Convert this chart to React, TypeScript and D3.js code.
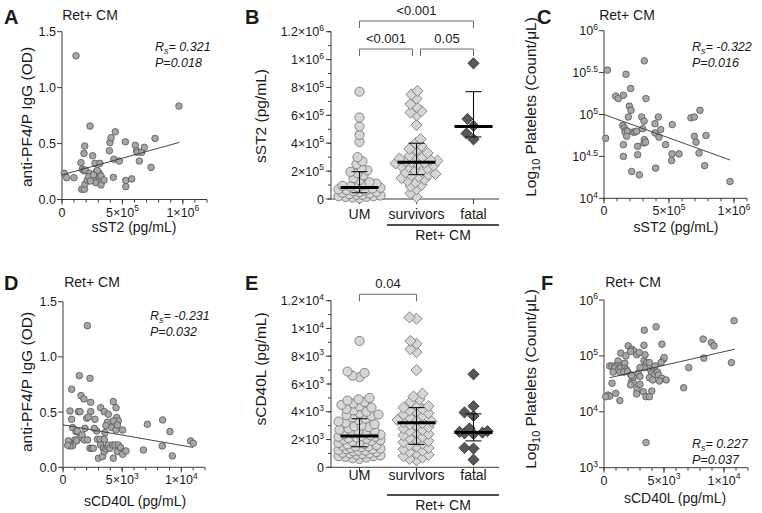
import React from 'react';
import * as d3 from 'd3';

const FONT = '"Liberation Sans", Arial, Helvetica, sans-serif';
const INK = '#1a1a1a';
const AXIS = '#3a3a3a';

type Pt = [number, number];

// ---------- Panel A: sST2 (x1e5 pg/mL) vs anti-PF4/P IgG (OD)
const A_POINTS: Pt[] = [
  [0.19, 0.234], [0.39, 0.195], [0.99, 0.195], [1.16, 1.284], [1.57, 0.329],
  [1.68, 0.27], [1.82, 0.257], [1.93, 0.263], [1.88, 0.478], [1.82, 0.412],
  [1.63, 0.091], [1.85, 0.091], [1.9, 0.136], [2.1, 0.174], [2.26, 0.234],
  [2.21, 0.204], [2.32, 0.656], [2.54, 0.391], [2.73, 0.323], [2.84, 0.248],
  [2.73, 0.174], [2.81, 0.15], [3.0, 0.21], [3.09, 0.234], [3.14, 0.195],
  [3.23, 0.21], [3.14, 0.323], [3.28, 0.159], [3.23, 0.13], [3.48, 0.174],
  [3.92, 0.436], [3.97, 0.51], [4.06, 0.552], [4.41, 0.605], [4.25, 0.198],
  [4.3, 0.36], [4.74, 0.344], [5.24, 0.516], [5.28, 0.17], [5.28, 0.115],
  [5.77, 0.184], [6.07, 0.484], [6.18, 0.436], [6.23, 0.421], [6.4, 0.344],
  [6.59, 0.421], [6.81, 0.466], [7.7, 0.546], [7.37, 0.287], [9.68, 0.835],
  [2.35, 0.165], [2.92, 0.26], [2.6, 0.22],
];
const A_LINE: [number, number, number, number] = [0, 0.22, 9.7, 0.51];
const A_STATS = ['0.321', '0.018'];

// ---------- Panel C: sST2 (x1e5) vs log10 platelets
const C_POINTS: Pt[] = [
  [0.13, 4.716], [0.26, 5.53], [0.9, 5.22], [1.1, 5.19], [1.49, 5.23],
  [1.69, 5.48], [2.05, 5.31], [1.95, 5.1], [2.08, 5.05], [1.87, 4.97],
  [1.44, 4.87], [1.56, 4.84], [1.69, 4.81], [1.62, 4.79], [1.82, 4.8],
  [1.74, 4.74], [1.49, 4.64], [1.49, 4.5], [2.25, 4.79], [2.38, 4.79],
  [2.51, 4.8], [2.59, 4.62], [2.59, 4.52], [2.13, 4.32], [2.72, 4.28],
  [2.9, 4.97], [3.08, 4.92], [2.97, 4.83], [3.1, 4.7], [3.08, 4.66],
  [3.2, 4.67], [3.1, 5.64], [3.23, 5.19], [3.92, 4.89], [4.18, 4.97],
  [3.92, 4.78], [4.23, 4.73], [3.97, 4.36], [4.36, 4.82], [4.74, 4.64],
  [5.25, 4.88], [5.23, 4.53], [5.2, 4.45], [5.77, 4.53], [6.69, 4.96],
  [6.95, 4.97], [6.95, 4.74], [7.08, 4.67], [7.31, 4.54], [7.85, 4.75],
  [7.38, 5.05], [7.74, 4.39], [9.69, 4.2],
];
const C_LINE: [number, number, number, number] = [0, 5.0, 9.7, 4.457];
const C_STATS = ['-0.322', '0.016'];

// ---------- Panel D: sCD40L (x1e3) vs anti-PF4/P IgG (OD)
const D_POINTS: Pt[] = [
  [2.06, 1.283], [1.38, 0.83], [2.28, 0.806], [0.73, 0.707], [1.52, 0.649],
  [1.77, 0.619], [2.34, 0.589], [0.59, 0.51], [1.3, 0.504], [1.44, 0.504],
  [2.34, 0.504], [0.73, 0.435], [2.0, 0.444], [2.14, 0.456], [2.7, 0.435],
  [3.18, 0.54], [3.49, 0.504], [3.83, 0.48], [4.25, 0.595], [4.48, 0.54],
  [4.54, 0.45], [4.68, 0.42], [4.25, 0.42], [3.75, 0.408], [4.11, 0.359],
  [3.63, 0.377], [2.85, 0.329], [4.48, 0.338], [4.59, 0.383], [5.04, 0.338],
  [0.82, 0.359], [1.1, 0.323], [1.21, 0.329], [1.44, 0.269], [1.61, 0.293],
  [1.01, 0.248], [1.15, 0.239], [0.82, 0.196], [0.54, 0.232], [0.59, 0.193],
  [0.45, 0.239], [1.8, 0.248], [2.08, 0.248], [2.28, 0.172], [2.42, 0.172],
  [2.56, 0.172], [2.9, 0.254], [3.13, 0.254], [3.49, 0.254], [3.55, 0.314],
  [3.18, 0.202], [3.41, 0.172], [2.99, 0.082], [3.35, 0.097], [3.49, 0.142],
  [3.63, 0.166], [3.75, 0.187], [3.83, 0.202], [3.97, 0.172], [4.2, 0.202],
  [4.39, 0.202], [4.25, 0.082], [4.59, 0.142], [4.68, 0.202], [4.87, 0.178],
  [5.15, 0.142], [5.04, 0.118], [5.32, 0.148], [6.79, 0.157], [7.13, 0.39],
  [8.39, 0.193], [8.42, 0.429], [9.04, 0.323], [9.24, 0.103], [10.79, 0.239],
  [11.01, 0.217], [2.65, 0.353], [1.86, 0.353], [0.39, 0.2],
];
const D_LINE: [number, number, number, number] = [0, 0.385, 11.0, 0.18];
const D_STATS = ['-0.231', '0.032'];

// ---------- Panel F: sCD40L (x1e3) vs log10 platelets
const F_POINTS: Pt[] = [
  [10.84, 5.63], [3.36, 5.46], [4.34, 5.52], [8.26, 5.3], [8.94, 5.24],
  [9.16, 5.18], [8.32, 4.96], [10.62, 4.88], [7.06, 4.79], [6.64, 4.43],
  [4.82, 5.21], [3.33, 5.19], [2.02, 5.18], [2.3, 5.12], [2.49, 5.09],
  [2.21, 5.08], [1.4, 5.05], [1.82, 5.0], [1.18, 4.91], [0.48, 4.82],
  [0.67, 4.82], [0.9, 4.82], [1.09, 4.82], [1.37, 4.82], [1.6, 4.82],
  [1.74, 4.87], [0.9, 4.78], [1.18, 4.75], [1.37, 4.78], [1.74, 4.78],
  [1.88, 4.75], [0.76, 4.71], [1.32, 4.71], [1.65, 4.71], [1.96, 4.72],
  [0.67, 4.51], [0.34, 4.3], [0.48, 4.28], [0.98, 4.33], [1.32, 4.2],
  [2.24, 4.66], [2.3, 4.54], [2.44, 4.52], [2.21, 4.48], [2.44, 4.62],
  [2.75, 4.4], [2.72, 4.32], [3.28, 4.36], [3.5, 4.27], [3.36, 4.79],
  [3.33, 4.91], [3.56, 4.88], [3.42, 5.02], [3.78, 4.88], [3.89, 4.75],
  [4.12, 4.75], [4.26, 4.82], [3.98, 4.69], [4.17, 4.66], [4.45, 4.71],
  [3.78, 4.61], [4.06, 4.57], [4.54, 4.66], [4.82, 4.6], [4.62, 4.55],
  [4.96, 4.94], [5.01, 4.97], [4.76, 4.88], [5.18, 4.57], [3.98, 4.37],
  [3.78, 4.27], [3.0, 4.49], [3.0, 4.79], [3.5, 3.45], [2.86, 4.69],
  [3.0, 4.63], [2.3, 4.65], [2.72, 5.02], [2.94, 5.06], [0.14, 4.27],
];
const F_LINE: [number, number, number, number] = [0.48, 4.61, 10.9, 5.12];
const F_STATS = ['0.227', '0.037'];

// ---------- Panel B: sST2 by group (x1e5 pg/mL)
const GROUPS = ['UM', 'survivors', 'fatal'];
const B_UM = [7.7, 5.85, 5.2, 4.6, 4.1, 3.0, 2.7, 2.5, 2.2, 2.05, 1.95, 1.85, 1.7, 1.5, 1.35,
  1.2, 1.1, 1.0, 0.95, 0.9, 0.85, 0.8, 0.75, 0.7, 0.65, 0.6, 0.55, 0.5, 0.5, 0.45, 0.4,
  0.35, 0.3, 0.3, 0.25, 0.2, 0.2, 0.15, 0.15, 0.1, 0.05];
const B_SURV = [7.75, 7.5, 7.2, 6.8, 6.6, 6.3, 6.2, 6.0, 5.3, 4.3, 4.0, 3.8, 3.6, 3.5, 3.3,
  3.1, 3.0, 3.0, 2.9, 2.8, 2.75, 2.7, 2.65, 2.6, 2.55, 2.5, 2.4, 2.35, 2.3, 2.2, 2.1, 2.0,
  1.9, 1.8, 1.75, 1.7, 1.6, 1.5, 1.4, 1.3, 1.2, 1.0, 0.9, 0.7, 0.4, 0.15];
const B_FATAL = [9.73, 5.74, 5.24, 4.7, 4.28];
const B_MEDIAN = [0.82, 2.63, 5.2];
const B_Q1 = [0.45, 1.75, 4.45];
const B_Q3 = [1.96, 4.0, 7.7];
const B_TICKS = ['0', '2×10^5', '4×10^5', '6×10^5', '8×10^5', '1×10^6', '1.2×10^6'];

// ---------- Panel E: sCD40L by group (x1e3 pg/mL)
const E_UM = [9.1, 6.9, 6.8, 6.6, 6.5, 5.0, 4.9, 4.8, 4.7, 4.6, 4.5, 4.4, 4.3, 4.2, 4.1, 4.0,
  3.9, 3.8, 3.75, 3.7, 3.6, 3.5, 3.4, 3.3, 3.2, 3.1, 3.0, 2.95, 2.9, 2.8, 2.7, 2.65, 2.6,
  2.5, 2.45, 2.4, 2.35, 2.3, 2.25, 2.2, 2.2, 2.15, 2.1, 2.05, 2.0, 1.95, 1.9, 1.85, 1.8,
  1.75, 1.7, 1.65, 1.6, 1.55, 1.5, 1.5, 1.45, 1.4, 1.35, 1.3, 1.3, 1.25, 1.2, 1.2, 1.15,
  1.1, 1.05, 1.0, 1.0, 0.95, 0.9, 0.85, 0.8, 0.8, 0.75, 0.7, 0.65, 0.6];
const E_SURV = [10.8, 10.7, 9.1, 8.9, 8.5, 8.3, 7.0, 5.3, 5.1, 4.9, 4.7, 4.5, 4.4, 4.3, 4.2,
  4.1, 4.0, 3.9, 3.8, 3.7, 3.6, 3.5, 3.4, 3.3, 3.25, 3.2, 3.1, 3.0, 2.9, 2.8, 2.7, 2.6,
  2.5, 2.4, 2.3, 2.2, 2.1, 2.0, 1.9, 1.8, 1.7, 1.6, 1.5, 1.4, 1.3, 1.2, 1.1, 1.0, 0.9,
  0.8, 0.7, 0.6, 0.5];
const E_FATAL = [6.7, 4.4, 3.95, 3.7, 2.8, 2.6, 2.55, 2.5, 2.45, 2.4, 1.4, 1.35, 0.55];
const E_MEDIAN = [2.25, 3.2, 2.5];
const E_Q1 = [1.48, 1.65, 1.9];
const E_Q3 = [3.5, 4.3, 3.85];
const E_TICKS = ['0', '2×10^3', '4×10^3', '6×10^3', '8×10^3', '1×10^4', '1.2×10^4'];

const SST2_X_TICKS = ['0', '5×10^5', '1×10^6'];
const CD40_X_TICKS = ['0', '5×10^3', '1×10^4'];
const OD_TICKS = ['0.0', '0.5', '1.0', '1.5'];
const PLT_C_TICKS = ['10^4', '10^4.5', '10^5', '10^5.5', '10^6'];
const PLT_F_TICKS = ['10^3', '10^4', '10^5', '10^6'];

const YLABEL_FS = 15.5;

function Sup({ s, fs }: { s: string; fs: number }) {
  const [base, exp] = s.split('^');
  return (
    <>
      {base}
      {exp !== undefined && (
        <tspan dy={-fs * 0.42} fontSize={fs * 0.68}>{exp}</tspan>
      )}
    </>
  );
}

function diamond(s: number) {
  return `M0,${-s}L${s},0L0,${s}L${-s},0Z`;
}

function swarm(vals: number[], y: (v: number) => number, minDist: number, maxW: number) {
  const idx = vals.map((_, i) => i).sort((a, b) => vals[a] - vals[b]);
  const placed: { x: number; y: number }[] = [];
  const offs = new Array(vals.length).fill(0);
  for (const i of idx) {
    const py = y(vals[i]);
    let best = 0;
    let bestScore = -1;
    for (let k = 0; k <= 2 * maxW; k++) {
      const dx = (k % 2 === 0 ? 1 : -1) * Math.ceil(k / 2);
      let mind = Infinity;
      for (const p of placed) {
        const d = Math.hypot(p.x - dx, p.y - py);
        if (d < mind) mind = d;
      }
      if (mind >= minDist) { best = dx; break; }
      if (mind > bestScore) { bestScore = mind; best = dx; }
    }
    offs[i] = best;
    placed.push({ x: best, y: py });
  }
  return offs;
}

type ScatterProps = {
  xr: [number, number]; yr: [number, number];
  xDomain: [number, number]; yDomain: [number, number];
  xUnit: number; points: Pt[]; line: [number, number, number, number];
  xTicks: string[]; xTickVals: number[];
  yTicks: string[]; yTickVals: number[];
  stats: string[]; statsX: number; statsY: number;
  title: string; titleX: number; titleY: number;
  letter: string; letterX: number; letterY: number;
  xLabel: string; xLabelX: number; xLabelY: number;
  yLabel: React.ReactNode; yLabelX: number; yLabelY: number;
};

function Scatter(p: ScatterProps) {
  const x = d3.scaleLinear().domain(p.xDomain).range(p.xr);
  const y = d3.scaleLinear().domain(p.yDomain).range(p.yr);
  const minors = d3.range(0, p.xDomain[1] / p.xUnit + 1e-9, 1);
  const [lx0, ly0, lx1, ly1] = p.line;
  return (
    <g fontFamily={FONT} fill={INK}>
      <text transform={`translate(${p.yLabelX},${p.yLabelY}) rotate(-90)`} fontSize={YLABEL_FS} textAnchor="middle">
        {p.yLabel}
      </text>
      <text x={p.letterX} y={p.letterY} fontSize={20} fontWeight="bold">{p.letter}</text>
      <text x={p.titleX} y={p.titleY} fontSize={14} textAnchor="middle">{p.title}</text>
      <line x1={p.xr[0]} x2={p.xr[1]} y1={p.yr[0]} y2={p.yr[0]} stroke={AXIS} strokeWidth={1} />
      <line x1={p.xr[0]} x2={p.xr[0]} y1={p.yr[0]} y2={p.yr[1]} stroke={AXIS} strokeWidth={1} />
      {minors.map((m, i) => (
        <line key={'mn' + i} x1={x(m * p.xUnit)} x2={x(m * p.xUnit)} y1={p.yr[0]} y2={p.yr[0] + 3} stroke={AXIS} />
      ))}
      {p.xTickVals.map((v, i) => (
        <g key={'xt' + i}>
          <line x1={x(v)} x2={x(v)} y1={p.yr[0]} y2={p.yr[0] + 5} stroke={AXIS} />
          <text x={x(v)} y={p.yr[0] + 17} fontSize={12.5} textAnchor="middle">
            <Sup s={p.xTicks[i]} fs={12.5} />
          </text>
        </g>
      ))}
      {p.yTickVals.map((v, i) => (
        <g key={'yt' + i}>
          <line x1={p.xr[0] - 5} x2={p.xr[0]} y1={y(v)} y2={y(v)} stroke={AXIS} />
          <text x={p.xr[0] - 6} y={y(v) + 4.5} fontSize={12.5} textAnchor="end">
            <Sup s={p.yTicks[i]} fs={12.5} />
          </text>
        </g>
      ))}
      {p.points.map((d, i) => (
        <circle key={'pt' + i} cx={x(d[0] * p.xUnit)} cy={y(d[1])} r={3.3}
          fill="#a6a6a6" stroke="#555" strokeWidth={0.8} />
      ))}
      <line x1={x(lx0 * p.xUnit)} y1={y(ly0)} x2={x(lx1 * p.xUnit)} y2={y(ly1)}
        stroke="#333" strokeWidth={0.9} />
      <text x={p.statsX} y={p.statsY} fontSize={12.5} fontStyle="italic">
        R<tspan dy={3} fontSize={9}>s</tspan><tspan dy={-3}>= {p.stats[0]}</tspan>
      </text>
      <text x={p.statsX} y={p.statsY + 16} fontSize={12.5} fontStyle="italic">P={p.stats[1]}</text>
      <text x={p.xLabelX} y={p.xLabelY} fontSize={14} textAnchor="middle">{p.xLabel}</text>
    </g>
  );
}

type Bracket = { a: number; b: number; y: number; label: string; insetA: number; insetB: number };
type DotProps = {
  yr: [number, number]; yMax: number; unit: number;
  groups: number[][]; median: number[]; q1: number[]; q3: number[];
  yTicks: string[];
  brackets: Bracket[];
  letter: string; letterY: number; yLabel: string; yLabelY: number;
  catY: number; groupLineY: number; groupY: number;
};

function DotPanel(p: DotProps) {
  const xAxis: [number, number] = [331, 499];
  const xc = d3.scalePoint<string>().domain(GROUPS).range([331, 502]).padding(0.5);
  const y = d3.scaleLinear().domain([0, p.yMax]).range(p.yr);
  const nUnits = Math.round(p.yMax / p.unit);
  const minors = d3.range(0, nUnits + 1, 1);
  const majors = d3.range(0, nUnits + 1, 2);
  const styles = [
    { fill: '#d6d6d6', stroke: '#7a7a7a', shape: 'circle' },
    { fill: '#d6d6d6', stroke: '#7a7a7a', shape: 'diamond' },
    { fill: '#575757', stroke: '#3a3a3a', shape: 'diamond' },
  ];
  return (
    <g fontFamily={FONT} fill={INK}>
      <text x={245} y={p.letterY} fontSize={20} fontWeight="bold">{p.letter}</text>
      <line x1={xAxis[0]} x2={xAxis[1]} y1={p.yr[0]} y2={p.yr[0]} stroke={AXIS} />
      <line x1={xAxis[0]} x2={xAxis[0]} y1={p.yr[0]} y2={p.yr[1]} stroke={AXIS} />
      {minors.map((m, i) => (
        <line key={'mn' + i} x1={xAxis[0] - 3} x2={xAxis[0]} y1={y(m * p.unit)} y2={y(m * p.unit)} stroke={AXIS} />
      ))}
      {majors.map((m, i) => (
        <g key={'mj' + i}>
          <line x1={xAxis[0] - 5} x2={xAxis[0]} y1={y(m * p.unit)} y2={y(m * p.unit)} stroke={AXIS} />
          <text x={xAxis[0] - 7} y={y(m * p.unit) + 4.5} fontSize={12.5} textAnchor="end">
            <Sup s={p.yTicks[i]} fs={12.5} />
          </text>
        </g>
      ))}
      {GROUPS.map((g, gi) => {
        const cx = xc(g) as number;
        const vals = p.groups[gi].map((v) => v * p.unit);
        const offs = swarm(vals, y, gi === 2 ? 9 : 6.2, gi === 2 ? 14 : 21);
        const st = styles[gi];
        const order = vals.map((_, i) => i).sort((a, b) => vals[a] - vals[b]);
        return (
          <g key={g}>
            <line x1={cx} x2={cx} y1={p.yr[0]} y2={p.yr[0] + 5} stroke={AXIS} />
            <text x={cx} y={p.catY} fontSize={14} textAnchor="middle">{g}</text>
            {order.map((i) =>
              st.shape === 'circle' ? (
                <circle key={i} cx={cx + offs[i]} cy={y(vals[i])} r={4.6} fill={st.fill}
                  stroke={st.stroke} strokeWidth={0.9} />
              ) : (
                <path key={i} d={diamond(5.6)} transform={`translate(${cx + offs[i]},${y(vals[i])})`}
                  fill={st.fill} stroke={st.stroke} strokeWidth={0.9} />
              )
            )}
            <line x1={cx} x2={cx} y1={y(p.q1[gi] * p.unit)} y2={y(p.q3[gi] * p.unit)} stroke="#111" strokeWidth={1.1} />
            <line x1={cx - 8} x2={cx + 8} y1={y(p.q1[gi] * p.unit)} y2={y(p.q1[gi] * p.unit)} stroke="#111" strokeWidth={1.1} />
            <line x1={cx - 8} x2={cx + 8} y1={y(p.q3[gi] * p.unit)} y2={y(p.q3[gi] * p.unit)} stroke="#111" strokeWidth={1.1} />
            <line x1={cx - 19} x2={cx + 19} y1={y(p.median[gi] * p.unit)} y2={y(p.median[gi] * p.unit)} stroke="#000" strokeWidth={3} />
          </g>
        );
      })}
      <line x1={387} x2={499} y1={p.groupLineY} y2={p.groupLineY} stroke="#111" strokeWidth={1.4} />
      <text x={443} y={p.groupY} fontSize={14} textAnchor="middle">Ret+ CM</text>
      {p.brackets.map((b, i) => {
        const xa = (xc(GROUPS[b.a]) as number) + b.insetA;
        const xb = (xc(GROUPS[b.b]) as number) + b.insetB;
        return (
          <g key={'br' + i}>
            <path d={`M${xa},${b.y + 7}V${b.y}H${xb}V${b.y + 7}`} fill="none" stroke="#6a6a6a" strokeWidth={1} />
            <text x={(xa + xb) / 2} y={b.y - 6} fontSize={13} textAnchor="middle">{b.label}</text>
          </g>
        );
      })}
      <text transform={`translate(266,${p.yLabelY}) rotate(-90)`} fontSize={YLABEL_FS} textAnchor="middle">{p.yLabel}</text>
    </g>
  );
}

const PlateletLabel = () => (
  <>
    Log<tspan dy={4} fontSize={11}>10</tspan><tspan dy={-4}> Platelets (Count/μL)</tspan>
  </>
);

const logToVal = (s: string) => parseFloat(s.split('^')[1]);

export default function App() {
  return (
    <svg width={762} height={513} viewBox="0 0 762 513"
      style={{ position: 'absolute', left: 0, top: 0, display: 'block', background: '#fff' }}>
      <rect width={762} height={513} fill="#fff" />
      <Scatter
        xr={[62, 207]} yr={[199.5, 31.7]} xDomain={[0, 1.2e6]} yDomain={[0, 1.5]}
        xUnit={1e5} points={A_POINTS} line={A_LINE}
        xTicks={SST2_X_TICKS} xTickVals={[0, 5e5, 1e6]}
        yTicks={OD_TICKS} yTickVals={[0, 0.5, 1, 1.5]}
        stats={A_STATS} statsX={155} statsY={51}
        title="Ret+ CM" titleX={90} titleY={20} letter="A" letterX={4} letterY={24}
        xLabel="sST2 (pg/mL)" xLabelX={134} xLabelY={232}
        yLabel="anti-PF4/P IgG (OD)" yLabelX={32} yLabelY={117}
      />
      <Scatter
        xr={[604, 747]} yr={[198.3, 30.7]} xDomain={[0, 1.1e6]} yDomain={[4, 6]}
        xUnit={1e5} points={C_POINTS} line={C_LINE}
        xTicks={SST2_X_TICKS} xTickVals={[0, 5e5, 1e6]}
        yTicks={PLT_C_TICKS} yTickVals={PLT_C_TICKS.map(logToVal)}
        stats={C_STATS} statsX={692} statsY={51}
        title="Ret+ CM" titleX={627} titleY={20} letter="C" letterX={537} letterY={24}
        xLabel="sST2 (pg/mL)" xLabelX={676} xLabelY={232}
        yLabel={<PlateletLabel />} yLabelX={536} yLabelY={107}
      />
      <Scatter
        xr={[63, 205]} yr={[467.3, 301.7]} xDomain={[0, 1.2e4]} yDomain={[0, 1.5]}
        xUnit={1e3} points={D_POINTS} line={D_LINE}
        xTicks={CD40_X_TICKS} xTickVals={[0, 5e3, 1e4]}
        yTicks={OD_TICKS} yTickVals={[0, 0.5, 1, 1.5]}
        stats={D_STATS} statsX={150} statsY={320}
        title="Ret+ CM" titleX={92} titleY={287} letter="D" letterX={4} letterY={290}
        xLabel="sCD40L (pg/mL)" xLabelX={135} xLabelY={506}
        yLabel="anti-PF4/P IgG (OD)" yLabelX={32} yLabelY={382}
      />
      <Scatter
        xr={[604, 748]} yr={[467.7, 300]} xDomain={[0, 1.2e4]} yDomain={[3, 6]}
        xUnit={1e3} points={F_POINTS} line={F_LINE}
        xTicks={CD40_X_TICKS} xTickVals={[0, 5e3, 1e4]}
        yTicks={PLT_F_TICKS} yTickVals={PLT_F_TICKS.map(logToVal)}
        stats={F_STATS} statsX={692} statsY={448}
        title="Ret+ CM" titleX={633} titleY={287} letter="F" letterX={541} letterY={290}
        xLabel="sCD40L (pg/mL)" xLabelX={675} xLabelY={503}
        yLabel={<PlateletLabel />} yLabelX={536} yLabelY={379}
      />
      <DotPanel
        yr={[199, 31.7]} yMax={1.2e6} unit={1e5}
        groups={[B_UM, B_SURV, B_FATAL]} median={B_MEDIAN} q1={B_Q1} q3={B_Q3}
        yTicks={B_TICKS}
        brackets={[
          { a: 0, b: 2, y: 21, label: '<0.001', insetA: 0, insetB: 0 },
          { a: 0, b: 1, y: 49, label: '<0.001', insetA: 0, insetB: -4 },
          { a: 1, b: 2, y: 49, label: '0.05', insetA: 4, insetB: 0 },
        ]}
        letter="B" letterY={24} yLabel="sST2 (pg/mL)" yLabelY={116}
        catY={219} groupLineY={225} groupY={240}
      />
      <DotPanel
        yr={[467.3, 300.7]} yMax={1.2e4} unit={1e3}
        groups={[E_UM, E_SURV, E_FATAL]} median={E_MEDIAN} q1={E_Q1} q3={E_Q3}
        yTicks={E_TICKS}
        brackets={[{ a: 0, b: 1, y: 294.3, label: '0.04', insetA: 0, insetB: 0 }]}
        letter="E" letterY={290} yLabel="sCD40L (pg/mL)" yLabelY={369}
        catY={480} groupLineY={495} groupY={510}
      />
    </svg>
  );
}
